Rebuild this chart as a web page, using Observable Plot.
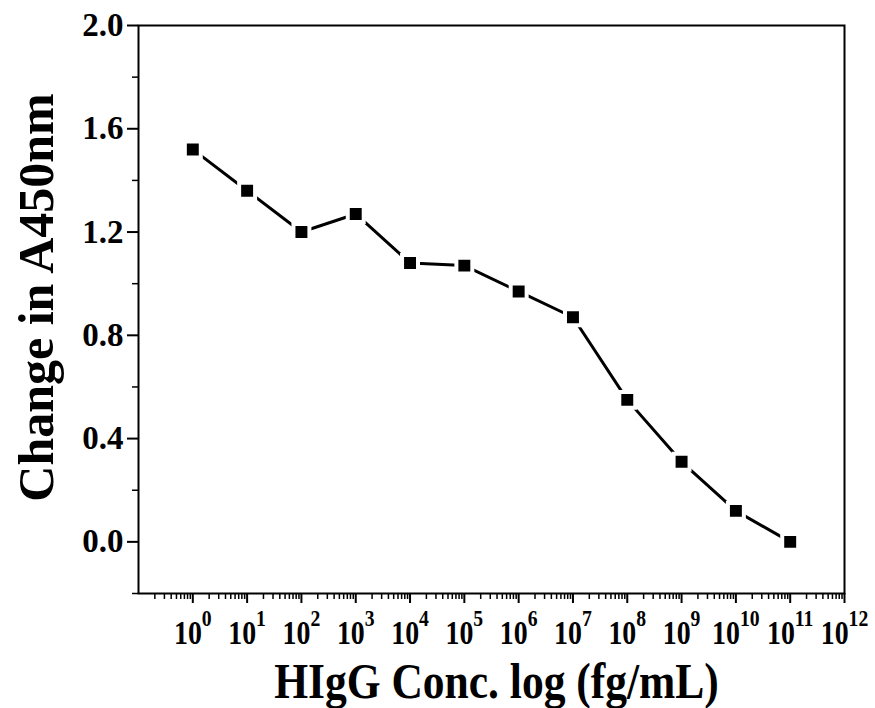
<!DOCTYPE html>
<html>
<head>
<meta charset="utf-8">
<script src="https://cdn.jsdelivr.net/npm/d3@7"></script>
<script src="https://cdn.jsdelivr.net/npm/@observablehq/plot@0.6"></script>
<style>
  html, body { margin: 0; padding: 0; background: #fff; }
  #chart svg { display: block; }
</style>
</head>
<body>
<div id="chart"></div>
<script>
// Data
const concentration = [1e0, 1e1, 1e2, 1e3, 1e4, 1e5, 1e6, 1e7, 1e8, 1e9, 1e10, 1e11]; // fg/mL
const absorbanceChange = [1.52, 1.36, 1.20, 1.27, 1.08, 1.07, 0.97, 0.87, 0.55, 0.31, 0.12, 0.00];

// Tick labels
const xTickExponents = [0, 1, 2, 3, 4, 5, 6, 7, 8, 9, 10, 11, 12];
const yMajorTicks = [0.0, 0.4, 0.8, 1.2, 1.6, 2.0];
const yMinorTicks = [-0.2, 0.2, 0.6, 1.0, 1.4, 1.8];
const xLabel = "HIgG Conc. log (fg/mL)";
const yLabel = "Change in A450nm";

const data = concentration.map((c, i) => ({x: c, y: absorbanceChange[i]}));
const xMajorTicks = xTickExponents.map(e => Math.pow(10, e));
const xMinorTicks = [];
for (let e = -1; e < 12; e++) for (let m = 2; m <= 9; m++) xMinorTicks.push(m * Math.pow(10, e));

const chart = Plot.plot({
  width: 875,
  height: 708,
  marginLeft: 138,
  marginRight: 31,
  marginTop: 25,
  marginBottom: 115,
  style: {fontFamily: "'Liberation Serif', 'Times New Roman', serif", fontWeight: "bold", fontSize: "33px", color: "#000", background: "#fff"},
  x: {type: "log", domain: [0.1, 1e12]},
  y: {domain: [-0.2, 2.0]},
  marks: [
    Plot.axisY({ticks: yMajorTicks, tickSize: 11, tickPadding: 4, tickFormat: d3.format(".1f"), strokeWidth: 2, fontSize: 33, label: null}),
    Plot.axisY({ticks: yMinorTicks, tickSize: 6, tickFormat: () => "", strokeWidth: 1.5, label: null}),
    Plot.axisX({ticks: xMajorTicks, tickSize: 10, tickPadding: 16, strokeWidth: 2, fontSize: 34,
      tickFormat: d => "10^" + Math.round(Math.log10(d)), label: null}),
    Plot.axisX({ticks: xMinorTicks, tickSize: 6, tickFormat: () => "", strokeWidth: 1.5, label: null}),
    Plot.frame({stroke: "#000", strokeWidth: 2}),
    Plot.line(data, {x: "x", y: "y", stroke: "#000", strokeWidth: 3}),
    Plot.dot(data, {x: "x", y: "y", symbol: "square", r: 9, fill: "#000", stroke: "#fff", strokeWidth: 4}),
    Plot.text([xLabel], {text: d => d, frameAnchor: "bottom", textAnchor: "middle", lineAnchor: "middle", dx: 5, dy: 88, fontSize: 50, ariaLabel: () => "x-label"}),
    Plot.text([yLabel], {text: d => d, frameAnchor: "left", textAnchor: "middle", lineAnchor: "middle", rotate: -90, dx: -102, dy: -12, fontSize: 50, ariaLabel: () => "y-label"})
  ]
});

const NS = "http://www.w3.org/2000/svg";
function condense(t, s) {
  const tr = t.getAttribute("transform");
  if (tr) {
    t.setAttribute("transform", tr + ` scale(${s},1)`);
  } else {
    const x = +(t.getAttribute("x") || 0), y = +(t.getAttribute("y") || 0);
    t.setAttribute("transform", `translate(${x},${y}) scale(${s},1) translate(${-x},${-y})`);
  }
}

// Superscript exponents on the x tick labels, with a slightly condensed look
chart.querySelectorAll('g[aria-label="x-axis tick label"] text').forEach(t => {
  const parts = t.textContent.split("^");
  if (parts.length !== 2) return;
  t.textContent = parts[0];
  const sup = document.createElementNS(NS, "tspan");
  sup.setAttribute("font-size", "24");
  sup.setAttribute("dy", "-18");
  sup.textContent = parts[1];
  t.appendChild(sup);
  condense(t, 0.82);
});
const xl = new Set([...chart.querySelectorAll('text[aria-label="x-label"], g[aria-label="x-label"] text')]);
if (xl.size === 0) {
  chart.querySelectorAll("text").forEach(t => { if (t.textContent === xLabel) xl.add(t); });
}
xl.forEach(t => condense(t, 0.87));

document.getElementById("chart").appendChild(chart);
</script>
</body>
</html>
